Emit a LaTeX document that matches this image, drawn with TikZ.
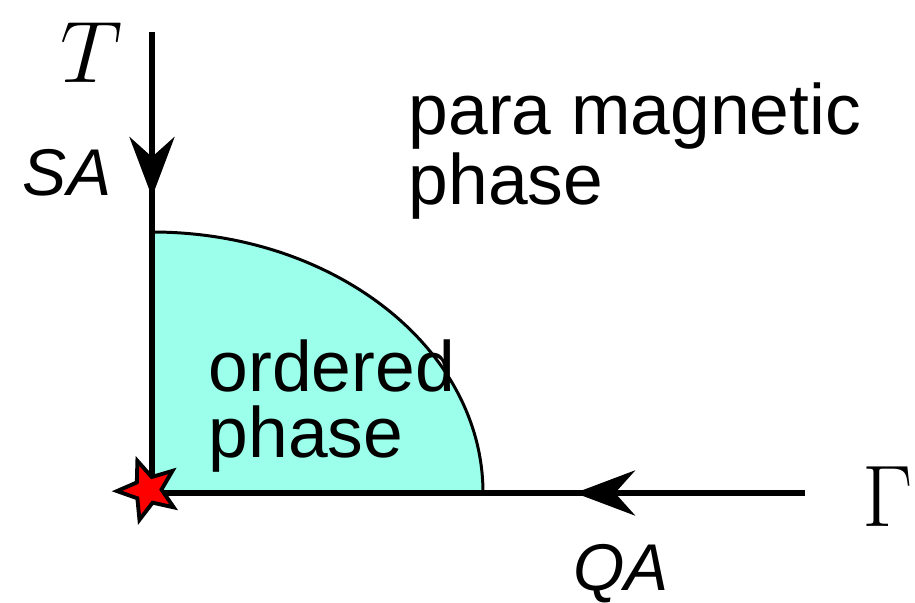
\documentclass[tikz,border=0pt]{standalone}
\usepackage{fontspec}
\setsansfont{Liberation Sans}
\usepackage{tikz}
\usetikzlibrary{arrows.meta,shapes.geometric}
\definecolor{ordem}{HTML}{9BFFEB}
\definecolor{estrela}{HTML}{FF0000}

\begin{document}
\begin{tikzpicture}[x=0.01cm, y=0.01cm, font=\sffamily,
    eixo/.style={line width=1.7pt, black},
    seta/.style={-{Stealth[length=0.6cm,width=0.45cm,inset=0.2cm]}, line width=1.7pt, black},
    fase/.style={anchor=north west, inner sep=0pt, align=left, font=\sffamily\fontsize{20.3}{18.8}\selectfont},
    rot/.style={inner sep=0pt, font=\sffamily\itshape\fontsize{18.8}{20}\selectfont}]
  \useasboundingbox (0,0) rectangle (915,603);
  \coordinate (origem) at (152,110);
  \coordinate (topo) at (152,571);
  \coordinate (fim) at (805,110);
  \coordinate (satip) at (152,406);
  \coordinate (qatip) at (575,110);
  % ordered region
  \fill[ordem] (origem) -- (152,371) arc[start angle=90, end angle=0, x radius=331, y radius=261] -- cycle;
  \draw[line width=0.85pt] (152,371) arc[start angle=90, end angle=0, x radius=331, y radius=261];
  \draw[eixo] (topo) -- (origem) -- (fim);
  \draw[seta] (topo) -- (satip);
  \draw[seta] (fim) -- (qatip);
  \node[star, star points=5, star point ratio=2.3, minimum size=0.62cm, inner sep=0pt, rotate=20,
        fill=estrela, draw=black, line width=1.1pt] (estrela) at (148,113) {};
  \node[anchor=base, inner sep=0pt, font=\fontsize{25}{25}\selectfont] (tlab) at (92,520) {$T$};
  \node[anchor=base, inner sep=0pt, font=\fontsize{34}{34}\selectfont] (glab) at (888,76) {$\Gamma$};
  \node[rot, anchor=base] (salab) at (67,407) {SA};
  \node[rot, anchor=base] (qalab) at (621,12) {QA};
  \node[fase] (para) at (408,521) {para magnetic\\phase};
  \node[fase] (ordered) at (208,264) {ordered\\phase};
\end{tikzpicture}
\end{document}
